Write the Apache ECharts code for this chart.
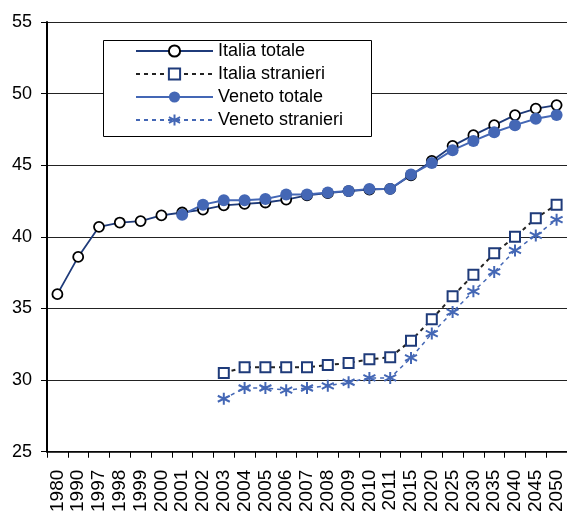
<!DOCTYPE html>
<html>
<head>
<meta charset="utf-8">
<script src="https://cdn.jsdelivr.net/npm/echarts@6/dist/echarts.min.js"></script>
<style>html,body{margin:0;padding:0;background:#fff;}#c{width:567px;height:515px;}</style>
</head>
<body>
<div id="c"></div>
<script>
const categories = ['1980','1990','1997','1998','1999','2000','2001','2002','2003','2004','2005','2006','2007','2008','2009','2010','2011','2015','2020','2025','2030','2035','2040','2045','2050'];
const italiaTotale = [36.0,38.6,40.7,41.0,41.1,41.5,41.7,41.9,42.2,42.3,42.4,42.6,42.9,43.05,43.2,43.3,43.35,44.3,45.3,46.35,47.1,47.8,48.5,48.95,49.2];
const italiaStranieri = [null,null,null,null,null,null,null,null,30.5,30.9,30.9,30.9,30.9,31.05,31.2,31.45,31.6,32.75,34.25,35.85,37.35,38.85,40.0,41.3,42.25];
const venetoTotale = [null,null,null,null,null,null,41.55,42.25,42.55,42.55,42.65,42.95,42.95,43.1,43.2,43.35,43.35,44.35,45.15,46.05,46.7,47.3,47.8,48.25,48.5];
const venetoStranieri = [null,null,null,null,null,null,null,null,28.7,29.45,29.45,29.3,29.45,29.6,29.85,30.15,30.15,31.55,33.25,34.75,36.2,37.55,39.05,40.1,41.2];
const seriesNames = ['Italia totale','Italia stranieri','Veneto totale','Veneto stranieri'];

const NAVY = '#1f3b7a';
const BLUE = '#4467b5';
const FONT = 'Liberation Sans';

const chart = echarts.init(document.getElementById('c'), null, {renderer: 'canvas'});
chart.setOption({
  animation: false,
  backgroundColor: '#fff',
  grid: {left: 47, right: 0, top: 22, bottom: 63, containLabel: false},
  graphic: [{
    type: 'rect', z: 10,
    shape: {x: 103.5, y: 40.5, width: 268, height: 96},
    style: {fill: '#fff', stroke: '#000', lineWidth: 1}
  }],
  legend: {
    z: 12,
    orient: 'vertical',
    left: 135, top: 42,
    itemWidth: 77, itemHeight: 14, itemGap: 5,
    padding: 0,
    data: seriesNames,
    textStyle: {fontFamily: FONT, fontSize: 18, color: '#000', lineHeight: 18}
  },
  xAxis: {
    type: 'category',
    data: categories,
    boundaryGap: true,
    axisLine: {lineStyle: {color: '#000', width: 1.5}},
    axisTick: {show: true, length: 6, lineStyle: {color: '#000', width: 1}},
    axisLabel: {rotate: 90, interval: 0, margin: 18, fontFamily: FONT, fontSize: 19, color: '#000'},
    splitLine: {show: false}
  },
  yAxis: {
    type: 'value',
    min: 25, max: 55, interval: 5,
    axisLine: {show: true, lineStyle: {color: '#000', width: 2}},
    axisTick: {show: true, length: 6, lineStyle: {color: '#000'}},
    axisLabel: {margin: 15, fontFamily: FONT, fontSize: 18, color: '#000'},
    splitLine: {show: true, lineStyle: {color: '#222', width: 1}}
  },
  series: [
    {
      name: seriesNames[0], type: 'line', data: italiaTotale,
      symbol: 'circle', symbolSize: 10,
      lineStyle: {color: NAVY, width: 1.8},
      itemStyle: {color: '#fff', borderColor: '#000', borderWidth: 1.8}
    },
    {
      name: seriesNames[1], type: 'line', data: italiaStranieri,
      symbol: 'rect', symbolSize: 10,
      lineStyle: {color: '#222', width: 2, type: [4, 4]},
      itemStyle: {color: '#fff', borderColor: NAVY, borderWidth: 2}
    },
    {
      name: seriesNames[2], type: 'line', data: venetoTotale,
      symbol: 'circle', symbolSize: 12,
      lineStyle: {color: BLUE, width: 2},
      itemStyle: {color: BLUE, borderColor: BLUE, borderWidth: 0}
    },
    {
      name: seriesNames[3], type: 'line', data: venetoStranieri,
      symbol: 'path://M6,0L6,12M0.8,3L11.2,9M0.8,9L11.2,3', symbolSize: 12,
      lineStyle: {color: BLUE, width: 1.5, type: [4, 4]},
      itemStyle: {color: 'rgba(0,0,0,0)', borderColor: BLUE, borderWidth: 2}
    }
  ]
});
</script>
</body>
</html>
